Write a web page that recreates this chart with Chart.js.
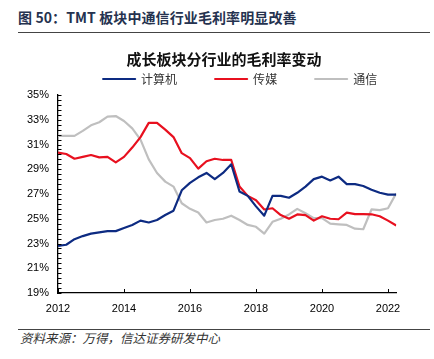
<!DOCTYPE html>
<html>
<head>
<meta charset="utf-8">
<script src="https://cdn.jsdelivr.net/npm/chart.js@4.4.1/dist/chart.umd.min.js"></script>
<style>
body { margin: 0; background: #fff; width: 434px; height: 359px; position: relative; overflow: hidden;
       font-family: "Noto Sans CJK SC", sans-serif; }
#head { position: absolute; left: 18px; top: 9px; font-size: 14px; line-height: 16px; font-weight: bold;
        color: #25324f; letter-spacing: 0.1px; white-space: nowrap; }
#hline { position: absolute; left: 18px; top: 32px; width: 412px; border-top: 1px solid #444; }
#title { position: absolute; left: 0; top: 50px; width: 448px; text-align: center; font-size: 15px;
         line-height: 18px; font-weight: bold; color: #111; z-index: 2; }
#box { position: absolute; left: 0; top: 35px; width: 434px; height: 283px; }
#fline { position: absolute; left: 18px; top: 329px; width: 412px; border-top: 1px solid #444; }
#src { position: absolute; left: 20px; top: 330px; font-size: 12.5px; line-height: 15px; font-style: italic;
       color: #333; white-space: nowrap; }
</style>
</head>
<body>
<div id="head">图 50：TMT 板块中通信行业毛利率明显改善</div>
<div id="hline"></div>
<div id="title">成长板块分行业的毛利率变动</div>
<div id="box"><canvas id="myChart"></canvas></div>
<div id="fline"></div>
<div id="src">资料来源：万得，信达证券研发中心</div>
<script>
// quarterly gross margin (%), 2012Q1 .. 2022Q2
const computer = [22.8, 22.9, 23.35, 23.6, 23.8, 23.9, 24.0, 24.0, 24.25, 24.5,
    24.85, 24.7, 24.9, 25.3, 25.65, 27.3, 27.9, 28.35, 28.7, 28.2,
    28.7, 29.4, 27.2, 26.85, 26.0, 25.25, 26.85, 26.85, 26.7, 27.1,
    27.6, 28.2, 28.4, 28.1, 28.4, 27.8, 27.8, 27.65, 27.35, 27.1,
    26.95, 26.95];
const media = [30.35, 30.23, 29.85, 30.0, 30.15, 29.96, 30.0, 29.55, 30.0, 30.75,
    31.6, 32.75, 32.75, 32.2, 31.6, 30.3, 29.9, 29.05, 29.65, 29.85,
    29.75, 29.75, 27.6, 26.85, 26.5, 25.75, 25.85, 25.3, 25.0, 25.35,
    25.3, 24.85, 25.2, 25.0, 24.96, 25.5, 25.38, 25.38, 25.36, 25.2,
    24.85, 24.45];
const telecom = [31.7, 31.7, 31.7, 32.1, 32.55, 32.8, 33.25, 33.3, 32.9, 32.3,
    31.4, 29.8, 28.7, 28.0, 27.6, 26.25, 25.8, 25.5, 24.7, 24.9,
    25.0, 25.25, 24.9, 24.5, 24.35, 23.8, 24.75, 25.0, 25.35, 25.8,
    25.45, 25.05, 25.05, 24.6, 24.55, 24.5, 24.2, 24.15, 25.75, 25.7,
    25.85, 27.05];
const seriesNames = ['计算机', '传媒', '通信'];
const seriesColors = ['#0d2b82', '#e8101f', '#bfbfbf'];
const yearTicks = [2012, 2014, 2016, 2018, 2020, 2022];
const yTicks = [19, 21, 23, 25, 27, 29, 31, 33, 35];

// x position of each quarter, in years
const quarterX = computer.map((v, i) => 2012 + i / 4);
const toPoints = arr => arr.map((v, i) => ({x: quarterX[i], y: v}));

// small inward tick marks like the excel original
const axisTicks = {
    id: 'axisTicks',
    afterDraw(chart) {
        const ctx = chart.ctx;
        const xs = chart.scales.x, ys = chart.scales.y;
        ctx.save();
        ctx.strokeStyle = '#000';
        ctx.lineWidth = 1;
        for (let k = 0; k <= 40; k++) {
            const y = Math.round(ys.getPixelForValue(19 + k * 0.4)) + 0.5;
            ctx.beginPath();
            ctx.moveTo(ys.right, y);
            ctx.lineTo(ys.right + 3.5, y);
            ctx.stroke();
        }
        yearTicks.forEach(t => {
            const x = Math.round(xs.getPixelForValue(t)) + 0.5;
            ctx.beginPath();
            ctx.moveTo(x, xs.top);
            ctx.lineTo(x, xs.top - 4);
            ctx.stroke();
        });
        ctx.restore();
    }
};

// move the legend right, like the original
const legendShift = {
    id: 'legendShift',
    afterLayout(chart) {
        if (chart.legend) {
            chart.legend.left += 42;
            chart.legend.right += 42;
        }
    }
};

let chart = document.getElementById('myChart').getContext('2d');

let myChart = new Chart(chart, {
    type: 'line',
    data: {
        datasets: [computer, media, telecom].map((arr, i) => ({
            label: seriesNames[i],
            data: toPoints(arr),
            borderColor: seriesColors[i],
            backgroundColor: seriesColors[i],
            borderWidth: 2.2,
            pointRadius: 0,
            tension: 0,
            borderJoinStyle: 'round',
        }))
    },
    options: {
        responsive: true,
        maintainAspectRatio: false,
        animation: false,
        layout: { padding: { left: 0, right: 37.75, top: 0, bottom: 0 } },
        plugins: {
            tooltip: { enabled: false },
            legend: {
                labels: {
                    boxWidth: 32,
                    boxHeight: 0,
                    padding: 38,
                    color: '#333',
                    font: { size: 12, family: '"Noto Sans CJK SC", sans-serif' },
                },
            },
        },
        scales: {
            x: {
                type: 'linear',
                min: 2012,
                max: 2022.25,
                grid: { display: false, drawTicks: false },
                border: { color: '#000', width: 1.3 },
                afterBuildTicks: s => { s.ticks = yearTicks.map(v => ({value: v})); },
                afterFit: s => { s.height = 25; },
                ticks: {
                    padding: 9,
                    color: '#000',
                    font: { size: 11, family: '"Liberation Sans", Arial, sans-serif' },
                    callback: v => String(v),
                },
            },
            y: {
                min: 19,
                max: 35,
                grid: { display: false, drawTicks: false },
                border: { color: '#000', width: 1.3 },
                afterBuildTicks: s => { s.ticks = yTicks.map(v => ({value: v})); },
                afterFit: s => { s.width = 58; },
                ticks: {
                    padding: 9,
                    color: '#000',
                    font: { size: 11, family: '"Liberation Sans", Arial, sans-serif' },
                    callback: v => v + '%',
                },
            },
        },
    },
    plugins: [axisTicks, legendShift]
});
</script>
</body>
</html>
